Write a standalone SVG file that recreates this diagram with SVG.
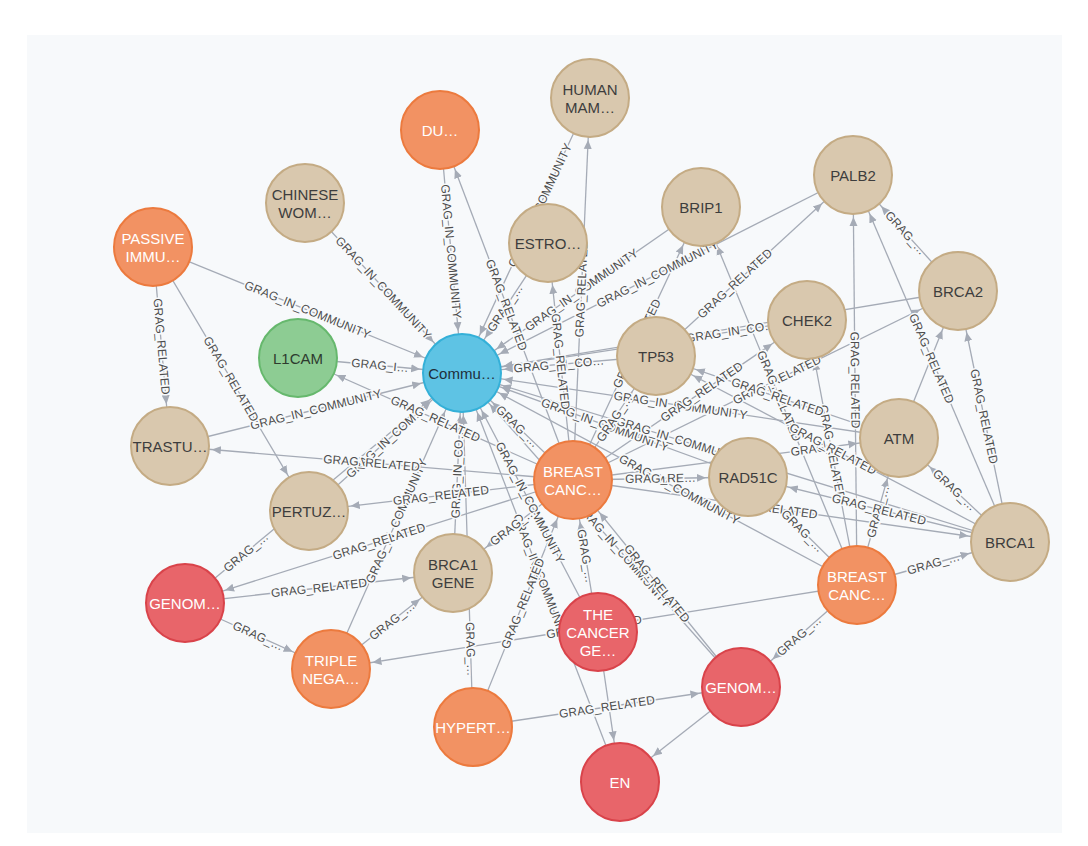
<svg xmlns="http://www.w3.org/2000/svg" width="1088" height="846" viewBox="0 0 1088 846">
<style>
.l{fill:none;stroke:#a5abb6;stroke-width:1.3}
.t{font-family:"Liberation Sans",Arial,sans-serif;font-size:12px;fill:#4d4d4d;stroke:#f7f9fb;stroke-width:3;paint-order:stroke;text-anchor:middle;dominant-baseline:central}
.nt{font-family:"Liberation Sans",Arial,sans-serif;font-size:15px;text-anchor:middle;dominant-baseline:central}
.tan circle{fill:#d9c8ae;stroke:#c4ab84;stroke-width:2}
.tan text{fill:#3d3d3d}
.org circle{fill:#f29263;stroke:#ec7a3e;stroke-width:2}
.red circle{fill:#e8656a;stroke:#d9434a;stroke-width:2}
.org text,.red text{fill:#ffffff}
.blu circle{fill:#5ec3e4;stroke:#34b0d8;stroke-width:2}
.blu text{fill:#1f2f3a}
.grn circle{fill:#8dcc93;stroke:#66b86d;stroke-width:2}
.grn text{fill:#2e3b2f}
</style>
<defs>
<marker id="arr" markerUnits="userSpaceOnUse" markerWidth="60" markerHeight="10" refX="51" refY="5" orient="auto-start-reverse"><path d="M0,1 L9,5 L0,9 z" fill="#a5abb6"/></marker>
</defs>
<rect x="0" y="0" width="1088" height="846" fill="#ffffff"/>
<rect x="27" y="35" width="1035" height="798" fill="#f7f9fb"/>
<g id="connectors">
<path id="e1" class="l" d="M440,130 L462,373" marker-end="url(#arr)"/>
<path id="e2" class="l" d="M305,203 L462,373" marker-end="url(#arr)"/>
<path id="e3" class="l" d="M153,247 L462,373" marker-end="url(#arr)"/>
<path id="e4" class="l" d="M298,358 L462,373" marker-end="url(#arr)"/>
<path id="e5" class="l" d="M170,446 L462,373" marker-end="url(#arr)"/>
<path id="e6" class="l" d="M309,511 L462,373" marker-end="url(#arr)"/>
<path id="e7" class="l" d="M462,373 L590,98" marker-start="url(#arr)"/>
<path id="e8" class="l" d="M462,373 L548,243" marker-start="url(#arr)"/>
<path id="e9" class="l" d="M462,373 L701,207" marker-start="url(#arr)"/>
<path id="e10" class="l" d="M462,373 L853,175" marker-start="url(#arr)"/>
<path id="e11" class="l" d="M462,373 L656,356" marker-start="url(#arr)"/>
<path id="e12" class="l" d="M462,373 L807,320" marker-start="url(#arr)"/>
<path id="e13" class="l" d="M462,373 L958,291" marker-start="url(#arr)"/>
<path id="e14" class="l" d="M462,373 L899,438" marker-start="url(#arr)"/>
<path id="e15" class="l" d="M462,373 L748,477" marker-start="url(#arr)"/>
<path id="e16" class="l" d="M462,373 L1010,542" marker-start="url(#arr)"/>
<path id="e17" class="l" d="M462,373 L573,480" marker-start="url(#arr)"/>
<path id="e18" class="l" d="M462,373 L857,585" marker-start="url(#arr)"/>
<path id="e19" class="l" d="M453,573 L462,373" marker-end="url(#arr)"/>
<path id="e20" class="l" d="M331,669 L462,373" marker-end="url(#arr)"/>
<path id="e21" class="l" d="M462,373 L473,727" marker-start="url(#arr)"/>
<path id="e22" class="l" d="M462,373 L598,632" marker-start="url(#arr)"/>
<path id="e23" class="l" d="M462,373 L620,782" marker-start="url(#arr)"/>
<path id="e24" class="l" d="M462,373 L741,687" marker-start="url(#arr)"/>
<path id="e25" class="l" d="M185,603 L462,373" marker-end="url(#arr)"/>
<path id="e26" class="l" d="M440,130 L573,480" marker-start="url(#arr)"/>
<path id="e27" class="l" d="M573,480 L590,98" marker-end="url(#arr)"/>
<path id="e28" class="l" d="M298,358 L573,480" marker-start="url(#arr)"/>
<path id="e29" class="l" d="M170,446 L573,480" marker-start="url(#arr)"/>
<path id="e30" class="l" d="M309,511 L573,480" marker-start="url(#arr)"/>
<path id="e31" class="l" d="M185,603 L573,480" marker-start="url(#arr)"/>
<path id="e32" class="l" d="M453,573 L573,480" marker-start="url(#arr)"/>
<path id="e33" class="l" d="M548,243 L573,480" marker-start="url(#arr)"/>
<path id="e34" class="l" d="M573,480 L701,207" marker-end="url(#arr)"/>
<path id="e35" class="l" d="M573,480 L656,356" marker-end="url(#arr)"/>
<path id="e36" class="l" d="M573,480 L807,320" marker-end="url(#arr)"/>
<path id="e37" class="l" d="M573,480 L748,477" marker-end="url(#arr)"/>
<path id="e38" class="l" d="M573,480 L899,438" marker-end="url(#arr)"/>
<path id="e39" class="l" d="M573,480 L1010,542" marker-end="url(#arr)"/>
<path id="e40" class="l" d="M573,480 L958,291" marker-end="url(#arr)"/>
<path id="e41" class="l" d="M473,727 L573,480" marker-end="url(#arr)"/>
<path id="e42" class="l" d="M573,480 L598,632" marker-start="url(#arr)"/>
<path id="e43" class="l" d="M573,480 L741,687" marker-start="url(#arr)"/>
<path id="e44" class="l" d="M853,175 L857,585" marker-start="url(#arr)"/>
<path id="e45" class="l" d="M857,585 L1010,542" marker-end="url(#arr)"/>
<path id="e46" class="l" d="M857,585 L899,438" marker-end="url(#arr)"/>
<path id="e47" class="l" d="M748,477 L857,585" marker-start="url(#arr)"/>
<path id="e48" class="l" d="M807,320 L857,585" marker-start="url(#arr)"/>
<path id="e49" class="l" d="M701,207 L857,585" marker-start="url(#arr)"/>
<path id="e50" class="l" d="M331,669 L857,585" marker-start="url(#arr)"/>
<path id="e51" class="l" d="M741,687 L857,585" marker-start="url(#arr)"/>
<path id="e52" class="l" d="M853,175 L1010,542" marker-start="url(#arr)"/>
<path id="e53" class="l" d="M958,291 L1010,542" marker-start="url(#arr)"/>
<path id="e54" class="l" d="M899,438 L1010,542" marker-start="url(#arr)"/>
<path id="e55" class="l" d="M899,438 L958,291" marker-end="url(#arr)"/>
<path id="e56" class="l" d="M853,175 L958,291" marker-start="url(#arr)"/>
<path id="e57" class="l" d="M748,477 L1010,542" marker-start="url(#arr)"/>
<path id="e58" class="l" d="M656,356 L853,175" marker-end="url(#arr)"/>
<path id="e59" class="l" d="M153,247 L170,446" marker-end="url(#arr)"/>
<path id="e60" class="l" d="M153,247 L309,511" marker-end="url(#arr)"/>
<path id="e61" class="l" d="M185,603 L453,573" marker-end="url(#arr)"/>
<path id="e62" class="l" d="M185,603 L331,669" marker-end="url(#arr)"/>
<path id="e63" class="l" d="M331,669 L453,573" marker-end="url(#arr)"/>
<path id="e64" class="l" d="M473,727 L741,687" marker-end="url(#arr)"/>
<path id="e65" class="l" d="M598,632 L620,782" marker-end="url(#arr)"/>
<path id="e66" class="l" d="M620,782 L741,687" marker-start="url(#arr)"/>
<path id="e67" class="l" d="M656,356 L1010,542" marker-start="url(#arr)"/>
<path id="e68" class="l" d="M656,356 L899,438" marker-start="url(#arr)"/>
<text class="t"><textPath href="#e1" startOffset="50%">GRAG_IN_COMMUNITY</textPath></text>
<text class="t"><textPath href="#e2" startOffset="50%">GRAG_IN_COMMUNITY</textPath></text>
<text class="t"><textPath href="#e3" startOffset="50%">GRAG_IN_COMMUNITY</textPath></text>
<text class="t"><textPath href="#e4" startOffset="50%">GRAG_I…</textPath></text>
<text class="t"><textPath href="#e5" startOffset="50%">GRAG_IN_COMMUNITY</textPath></text>
<text class="t"><textPath href="#e6" startOffset="50%">GRAG_IN_COM…</textPath></text>
<text class="t"><textPath href="#e7" startOffset="61%">GRAG_IN_COMMUNITY</textPath></text>
<text class="t"><textPath href="#e8" startOffset="50%">GRAG_…</textPath></text>
<text class="t"><textPath href="#e9" startOffset="50%">GRAG_IN_COMMUNITY</textPath></text>
<text class="t"><textPath href="#e10" startOffset="50%">GRAG_IN_COMMUNITY</textPath></text>
<text class="t"><textPath href="#e11" startOffset="50%">GRAG_IN_CO…</textPath></text>
<text class="t"><textPath href="#e12" startOffset="78%">GRAG_IN_CO…</textPath></text>
<text class="t"><textPath href="#e14" startOffset="50%">GRAG_IN_COMMUNITY</textPath></text>
<text class="t"><textPath href="#e15" startOffset="50%">GRAG_IN_COMMUNITY</textPath></text>
<text class="t"><textPath href="#e16" startOffset="40%">GRAG_IN_COMMUNITY</textPath></text>
<text class="t"><textPath href="#e17" startOffset="50%">GRAG_…</textPath></text>
<text class="t"><textPath href="#e18" startOffset="55%">GRAG_IN_COMMUNITY</textPath></text>
<text class="t"><textPath href="#e19" startOffset="50%">GRAG_IN_CO…</textPath></text>
<text class="t"><textPath href="#e20" startOffset="50%">GRAG_IN_COMMUNITY</textPath></text>
<text class="t"><textPath href="#e21" startOffset="78%">GRAG_…</textPath></text>
<text class="t"><textPath href="#e22" startOffset="50%">GRAG_IN_COMMUNITY</textPath></text>
<text class="t"><textPath href="#e23" startOffset="50%">GRAG_IN_COMMUNITY</textPath></text>
<text class="t"><textPath href="#e24" startOffset="58%">GRAG_IN_COMMUNITY</textPath></text>
<text class="t"><textPath href="#e25" startOffset="22%">GRAG_…</textPath></text>
<text class="t"><textPath href="#e26" startOffset="50%">GRAG_RELATED</textPath></text>
<text class="t"><textPath href="#e27" startOffset="50%">GRAG_RELATED</textPath></text>
<text class="t"><textPath href="#e28" startOffset="50%">GRAG_RELATED</textPath></text>
<text class="t"><textPath href="#e29" startOffset="50%">GRAG_RELATED</textPath></text>
<text class="t"><textPath href="#e30" startOffset="50%">GRAG_RELATED</textPath></text>
<text class="t"><textPath href="#e31" startOffset="50%">GRAG_RELATED</textPath></text>
<text class="t"><textPath href="#e32" startOffset="50%">GRAG_…</textPath></text>
<text class="t"><textPath href="#e33" startOffset="50%">GRAG_RELATED</textPath></text>
<text class="t"><textPath href="#e34" startOffset="50%">GRAG_RELATED</textPath></text>
<text class="t"><textPath href="#e35" startOffset="50%">GRAG_…</textPath></text>
<text class="t"><textPath href="#e36" startOffset="55%">GRAG_RELATED</textPath></text>
<text class="t"><textPath href="#e37" startOffset="50%">GRAG_RE…</textPath></text>
<text class="t"><textPath href="#e38" startOffset="75%">GRAG_…</textPath></text>
<text class="t"><textPath href="#e39" startOffset="45%">GRAG_RELATED</textPath></text>
<text class="t"><textPath href="#e40" startOffset="53%">GRAG_RELATED</textPath></text>
<text class="t"><textPath href="#e41" startOffset="50%">GRAG_RELATED</textPath></text>
<text class="t"><textPath href="#e42" startOffset="50%">GRAG_…</textPath></text>
<text class="t"><textPath href="#e43" startOffset="50%">GRAG_RELATED</textPath></text>
<text class="t"><textPath href="#e44" startOffset="50%">GRAG_RELATED</textPath></text>
<text class="t"><textPath href="#e45" startOffset="50%">GRAG_…</textPath></text>
<text class="t"><textPath href="#e46" startOffset="50%">GRAG_…</textPath></text>
<text class="t"><textPath href="#e47" startOffset="50%">GRAG_…</textPath></text>
<text class="t"><textPath href="#e48" startOffset="50%">GRAG_RELATED</textPath></text>
<text class="t"><textPath href="#e49" startOffset="50%">GRAG_RELATED</textPath></text>
<text class="t"><textPath href="#e50" startOffset="50%">GRAG_RELATED</textPath></text>
<text class="t"><textPath href="#e51" startOffset="50%">GRAG_…</textPath></text>
<text class="t"><textPath href="#e52" startOffset="50%">GRAG_RELATED</textPath></text>
<text class="t"><textPath href="#e53" startOffset="50%">GRAG_RELATED</textPath></text>
<text class="t"><textPath href="#e54" startOffset="50%">GRAG_…</textPath></text>
<text class="t"><textPath href="#e56" startOffset="50%">GRAG_…</textPath></text>
<text class="t"><textPath href="#e57" startOffset="50%">GRAG_RELATED</textPath></text>
<text class="t"><textPath href="#e58" startOffset="40%">GRAG_RELATED</textPath></text>
<text class="t"><textPath href="#e59" startOffset="50%">GRAG_RELATED</textPath></text>
<text class="t"><textPath href="#e60" startOffset="50%">GRAG_RELATED</textPath></text>
<text class="t"><textPath href="#e61" startOffset="50%">GRAG_RELATED</textPath></text>
<text class="t"><textPath href="#e62" startOffset="50%">GRAG_…</textPath></text>
<text class="t"><textPath href="#e63" startOffset="50%">GRAG_…</textPath></text>
<text class="t"><textPath href="#e64" startOffset="50%">GRAG_RELATED</textPath></text>
<text class="t"><textPath href="#e67" startOffset="50%">GRAG_RELATED</textPath></text>
<text class="t"><textPath href="#e68" startOffset="50%">GRAG_RELATED</textPath></text>
</g>
<g id="n-human" class="tan"><circle cx="590" cy="98" r="39"/><text class="nt" x="590" y="98"><tspan x="590" dy="-9">HUMAN</tspan><tspan x="590" dy="18">MAM…</tspan></text></g>
<g id="n-du" class="org"><circle cx="440" cy="130" r="39"/><text class="nt" x="440" y="130">DU…</text></g>
<g id="n-chinese" class="tan"><circle cx="305" cy="203" r="39"/><text class="nt" x="305" y="203"><tspan x="305" dy="-9">CHINESE</tspan><tspan x="305" dy="18">WOM…</tspan></text></g>
<g id="n-passive" class="org"><circle cx="153" cy="247" r="39"/><text class="nt" x="153" y="247"><tspan x="153" dy="-9">PASSIVE</tspan><tspan x="153" dy="18">IMMU…</tspan></text></g>
<g id="n-estro" class="tan"><circle cx="548" cy="243" r="39"/><text class="nt" x="548" y="243">ESTRO…</text></g>
<g id="n-brip1" class="tan"><circle cx="701" cy="207" r="39"/><text class="nt" x="701" y="207">BRIP1</text></g>
<g id="n-palb2" class="tan"><circle cx="853" cy="175" r="39"/><text class="nt" x="853" y="175">PALB2</text></g>
<g id="n-brca2" class="tan"><circle cx="958" cy="291" r="39"/><text class="nt" x="958" y="291">BRCA2</text></g>
<g id="n-chek2" class="tan"><circle cx="807" cy="320" r="39"/><text class="nt" x="807" y="320">CHEK2</text></g>
<g id="n-l1cam" class="grn"><circle cx="298" cy="358" r="39"/><text class="nt" x="298" y="358">L1CAM</text></g>
<g id="n-community" class="blu"><circle cx="462" cy="373" r="39"/><text class="nt" x="462" y="373">Commu…</text></g>
<g id="n-tp53" class="tan"><circle cx="656" cy="356" r="39"/><text class="nt" x="656" y="356">TP53</text></g>
<g id="n-trastu" class="tan"><circle cx="170" cy="446" r="39"/><text class="nt" x="170" y="446">TRASTU…</text></g>
<g id="n-atm" class="tan"><circle cx="899" cy="438" r="39"/><text class="nt" x="899" y="438">ATM</text></g>
<g id="n-rad51c" class="tan"><circle cx="748" cy="477" r="39"/><text class="nt" x="748" y="477">RAD51C</text></g>
<g id="n-breast1" class="org"><circle cx="573" cy="480" r="39"/><text class="nt" x="573" y="480"><tspan x="573" dy="-9">BREAST</tspan><tspan x="573" dy="18">CANC…</tspan></text></g>
<g id="n-pertuz" class="tan"><circle cx="309" cy="511" r="39"/><text class="nt" x="309" y="511">PERTUZ…</text></g>
<g id="n-brca1" class="tan"><circle cx="1010" cy="542" r="39"/><text class="nt" x="1010" y="542">BRCA1</text></g>
<g id="n-brca1gene" class="tan"><circle cx="453" cy="573" r="39"/><text class="nt" x="453" y="573"><tspan x="453" dy="-9">BRCA1</tspan><tspan x="453" dy="18">GENE</tspan></text></g>
<g id="n-genom1" class="red"><circle cx="185" cy="603" r="39"/><text class="nt" x="185" y="603">GENOM…</text></g>
<g id="n-breast2" class="org"><circle cx="857" cy="585" r="39"/><text class="nt" x="857" y="585"><tspan x="857" dy="-9">BREAST</tspan><tspan x="857" dy="18">CANC…</tspan></text></g>
<g id="n-thecancer" class="red"><circle cx="598" cy="632" r="39"/><text class="nt" x="598" y="632"><tspan x="598" dy="-18">THE</tspan><tspan x="598" dy="18">CANCER</tspan><tspan x="598" dy="18">GE…</tspan></text></g>
<g id="n-triple" class="org"><circle cx="331" cy="669" r="39"/><text class="nt" x="331" y="669"><tspan x="331" dy="-9">TRIPLE</tspan><tspan x="331" dy="18">NEGA…</tspan></text></g>
<g id="n-genom2" class="red"><circle cx="741" cy="687" r="39"/><text class="nt" x="741" y="687">GENOM…</text></g>
<g id="n-hypert" class="org"><circle cx="473" cy="727" r="39"/><text class="nt" x="473" y="727">HYPERT…</text></g>
<g id="n-en" class="red"><circle cx="620" cy="782" r="39"/><text class="nt" x="620" y="782">EN</text></g>
</svg>
